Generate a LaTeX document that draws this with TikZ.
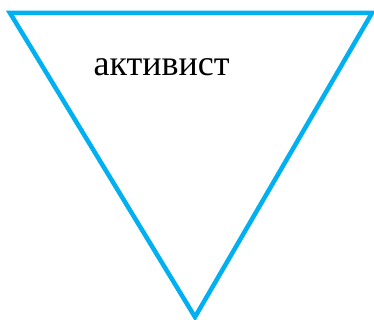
\documentclass[tikz,border=0pt]{standalone}
\usepackage{fontspec}
\setmainfont{Liberation Serif}
\definecolor{triblue}{HTML}{00B0F0}

\begin{document}
\begin{tikzpicture}[x=1pt, y=-1pt]
    % Khung
    \useasboundingbox (0,0) rectangle (374,320);

    % Tam giác ngược
    \coordinate (A) at (10,13);
    \coordinate (B) at (372,13);
    \coordinate (C) at (195,317);
    \draw[color=triblue, line width=4.5pt, line join=miter] (A) -- (B) -- (C) -- cycle;

    % Chữ
    \node[anchor=base, inner sep=0pt, font=\fontsize{36}{40}\selectfont] (label) at (161.5,76) {активист};
\end{tikzpicture}
\end{document}
